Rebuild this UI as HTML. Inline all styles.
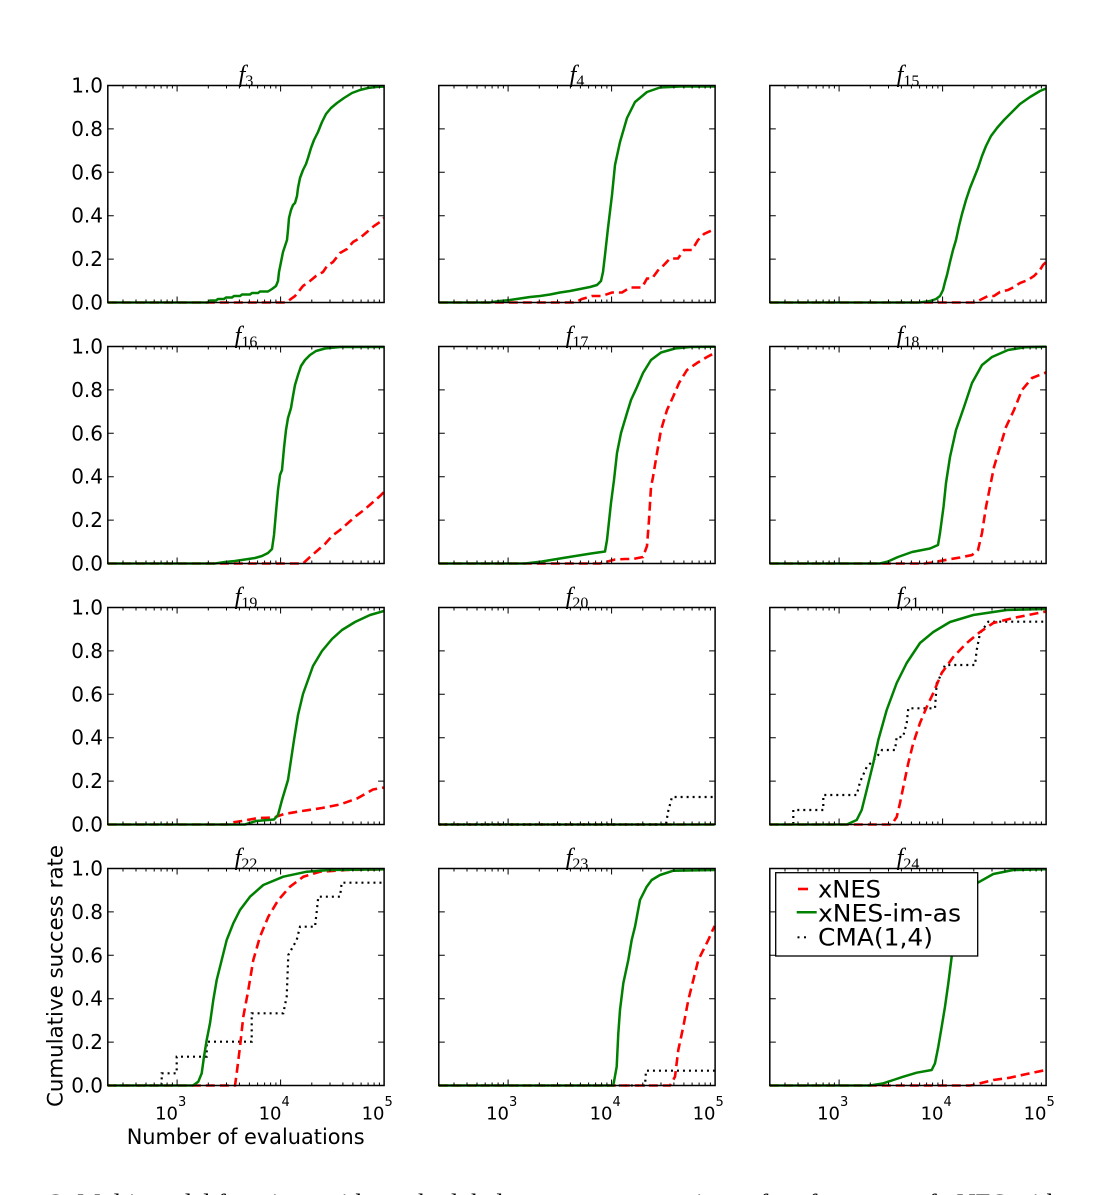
<!DOCTYPE html>
<html><head><meta charset="utf-8"><style>
html,body{margin:0;padding:0;background:#fff;}
svg{display:block;}
.g{fill:none;stroke:#008000;stroke-width:2.5;stroke-linejoin:round;}
.r{fill:none;stroke:#ff0000;stroke-width:2.6;stroke-dasharray:9 5;}
.k{fill:none;stroke:#000;stroke-width:2.2;stroke-dasharray:2 4;}
.yl{font-family:"DejaVu Sans","Liberation Sans",sans-serif;font-size:20px;text-anchor:end;fill:#000;}
.xl{font-family:"DejaVu Sans","Liberation Sans",sans-serif;font-size:18px;fill:#000;}
.xs{font-family:"DejaVu Sans","Liberation Sans",sans-serif;font-size:13px;fill:#000;}
.t{font-family:"Liberation Serif",serif;font-size:24px;text-anchor:middle;fill:#000;}
.lg{font-family:"DejaVu Sans","Liberation Sans",sans-serif;font-size:24px;fill:#000;}
</style></head><body>
<svg width="1108" height="1195" viewBox="0 0 1108 1195" xmlns="http://www.w3.org/2000/svg">
<defs>
<g id="ax">
<path fill="none" stroke="#000" stroke-width="1" d="M15.2,0v3M28.2,0v3M38.2,0v3M46.4,0v3M53.3,0v3M59.3,0v3M64.6,0v3M100.5,0v3M118.7,0v3M131.6,0v3M141.6,0v3M149.8,0v3M156.8,0v3M162.8,0v3M168.1,0v3M204,0v3M222.2,0v3M235.1,0v3M245.1,0v3M253.3,0v3M260.3,0v3M266.3,0v3M271.6,0v3
M15.2,217v-3M28.2,217v-3M38.2,217v-3M46.4,217v-3M53.3,217v-3M59.3,217v-3M64.6,217v-3M100.5,217v-3M118.7,217v-3M131.6,217v-3M141.6,217v-3M149.8,217v-3M156.8,217v-3M162.8,217v-3M168.1,217v-3M204,217v-3M222.2,217v-3M235.1,217v-3M245.1,217v-3M253.3,217v-3M260.3,217v-3M266.3,217v-3M271.6,217v-3
M69.3,0v6M172.8,0v6M69.3,217v-6M172.8,217v-6
M0,43.4h6M0,86.8h6M0,130.2h6M0,173.6h6M276.3,43.4h-6M276.3,86.8h-6M276.3,130.2h-6M276.3,173.6h-6"/>
<rect x="0" y="0" width="276.3" height="217" fill="none" stroke="#000" stroke-width="1.5"/>
</g>
</defs>

<!-- Row 1 -->
<path class="r" d="M107.8,302.5 H286 L295,296 L303,286 L310,281 L316,276 L323,272 L327,266 L333,262 L340,253 L347,249 L353,242 L360,238 L367,232 L374,226 L380,222 L384,218"/>
<path class="g" d="M107.8,302.5 H208 L210,300.5 H216 L218,299 H224 L226,297.5 H232 L234,296 H240 L242,294.5 H250 L252,293 H258 L260,291.5 H268 L272,289 L276,286 L278,281 L279,272 L281,262 L283,252 L285,246 L287,240 L288,230 L289,218 L291,210 L293,205 L295,203 L297,196 L298,188 L300,178 L303,170 L306,164 L308,158 L311,148 L314,140 L318,132 L322,122 L326,114 L331,108 L337,103 L344,98 L352,93 L360,90 L368,88 L376,87 L384,86.5"/>
<path class="r" d="M438.8,302.5 H575 L582,299 L592,296 H602 L612,292.5 H622 L630,287.5 H642 L647,278.5 H652 L659,269 L662,267 L670,258.5 H678 L684,250 H692 L698,240 L704,234 L714.7,229"/>
<path class="g" d="M438.8,302.5 H490 L500,301 L510,300 L520,298.5 L530,297 L540,296 L550,294.5 L560,292.5 L570,291 L580,289 L590,287 L597,285 L601,281 L603,272 L605,255 L608,228 L612,195 L615,165 L620,142 L627,118 L635,102 L647,92 L660,87.5 L680,86.5 L714.7,86.5"/>
<path class="r" d="M769.8,302.5 H975 L982,299 L988,296 H994 L1000,292 L1008,290 L1014,287 L1020,283 L1028,280 L1034,276 L1040,270 L1043,265 L1046,262"/>
<path class="g" d="M769.8,302.5 H920 L930,301 L936,299 L940,296 L943,290 L945,282 L947,275 L950,262 L953,250 L956,240 L959,226 L962,214 L966,200 L970,188 L974,178 L978,168 L982,156 L986,146 L991,136 L997,128 L1004,120 L1012,112 L1020,104 L1030,97 L1040,91 L1046,88.5"/>

<!-- Row 2 -->
<path class="r" d="M107.8,563.5 H303 L310,557 L318,550 L325,544 L332,536 L340,530 L348,523 L356,516 L364,510 L372,503 L380,496 L384,492"/>
<path class="g" d="M107.8,563.5 H215 L225,562 L235,561 L245,559.5 L255,558 L262,556 L268,553 L272,549 L274,535 L276,512 L278,490 L280,475 L282,470 L284,448 L286,430 L288,418 L291,408 L293,396 L295,385 L298,375 L301,366 L305,360 L310,355 L316,351 L325,348.5 L340,347 L384,347"/>
<path class="r" d="M438.8,563.5 H600 L615,559.5 L625,559 H633 L643,557 L647,546 L649,520 L651,487 L653,477 L657,453 L661,430 L667,410 L673,397 L679,383 L687,370 L697,363 L707,357 L714.7,353"/>
<path class="g" d="M438.8,563.5 H525 L542,561.5 L563,558 L591,553.5 L605,551.5 L607,540 L611,503 L614,480 L617,453 L621,433 L627,413 L631,400 L637,387 L643,373 L651,360 L661,352.5 L675,348.5 L690,347 L714.7,346.7"/>
<path class="r" d="M769.8,563.5 H925 L932,562.5 L948,559.5 L960,557.5 L972,555 L978,550 L982,533 L986,507 L990,487 L994,467 L1000,447 L1006,427 L1014,410 L1022,390 L1032,378 L1046,372.5"/>
<path class="g" d="M769.8,563.5 H880 L888,561.5 L898,557 L912,552 L930,548.5 L938,545 L940,533 L943.5,507 L946,483 L950,457 L956,430 L964,407 L972,383 L982,365 L992,357 L1008,350 L1025,347.3 L1046,346.7"/>

<!-- Row 3 -->
<path class="r" d="M107.8,824.5 H228 L232,822.5 L242,821 L258,818 L274,817.5 L284,814 L302,811 L322,808 L340,804.5 L357,798.5 L373,789.5 L384,787.5"/>
<path class="g" d="M107.8,824.5 H245 L256,821 L274,819.5 L278,815 L282,800 L288,780 L291,760 L294,740 L298,715 L303,694 L308,680 L313,666 L322,651 L332,639 L342,630 L355,622 L370,615 L384,611"/>
<path class="r" d="M438.8,824.5 H714.7"/>
<path class="g" d="M438.8,824.5 H714.7"/>
<path class="k" d="M438.8,824.5 H666 L668,812 L672,797 H714.7"/>
<path class="k" d="M769.8,824.5 H793.3 V810 H823.3 V795 H856.7 L860,782 L866.7,767 L876.7,757 L882,750 H895 L896.7,737 H903 L906.7,723 L908.3,708.3 H935 L936.7,683.3 L941.7,673.3 L945,665 H975 L976.7,650 L980,633.3 L988.3,621.7 H1046"/>
<path class="r" d="M769.8,824.5 H891.7 L896.7,817 L900,803 L903.3,787 L908.3,763 L913.3,743 L920,723 L926.7,707 L933.3,693 L941.7,673 L953.3,657 L966.7,643 L980,632 L993.3,623 L1013.3,618 L1046,611.5"/>
<path class="g" d="M769.8,824.5 H846.7 L856.7,820 L861.7,810 L866.7,790 L873.3,763 L878.3,740 L886.7,710 L896.7,683 L906.7,663 L920,643 L933.3,632 L950,622 L973.3,615 L1006.7,610 L1046,609"/>

<!-- Row 4 -->
<path class="k" d="M107.8,1085.5 H161.7 V1073.3 H176.7 V1056.7 H206.7 V1041.7 H251.7 V1013.3 H283.3 L286.7,996.7 L288.3,955 L296.7,940 L300,926.7 H315 L316.7,911.7 L318.3,896.7 H340 L341.7,882.7 H384"/>
<path class="r" d="M107.8,1085.5 H235 L236.7,1073.3 L240,1046.7 L243.3,1016.7 L248.3,990 L253.3,960 L260,936.7 L268.3,916.7 L278.3,900 L290,886.7 L303.3,876.7 L320,871.7 L346.7,870 L384,869.3"/>
<path class="g" d="M107.8,1085.5 H193 L198.3,1081.7 L201.7,1073.3 L204,1056.7 L206.7,1040 L210,1023.3 L213.3,1000 L216.7,980 L221.7,960 L226.7,940 L233.3,923.3 L240,910 L250,896.7 L263.3,885 L283.3,876.7 L306.7,871.7 L330,870 L384,869.3"/>
<path class="k" d="M438.8,1085.5 H645 L646,1070.7 H714.7"/>
<path class="r" d="M438.8,1085.5 H670 L675,1076.7 L678.3,1050 L683.3,1026.7 L688.3,1000 L693.3,980 L698.3,960 L703.3,950 L708.3,940 L712.7,930 L714.7,926"/>
<path class="g" d="M438.8,1085.5 H613.3 L616.7,1066.7 L618.3,1033.3 L620,1010 L623.3,983.3 L628.3,960 L631.7,940 L635,926.7 L640,900 L646.7,886.7 L651.7,880 L660,875 L673.3,870.7 L714.7,870"/>
<path class="r" d="M769.8,1085.5 H970 L973.3,1085 L993.3,1080 L1010,1077.7 L1026.7,1074 L1046,1070"/>
<path class="g" d="M769.8,1085.5 H870 L883.3,1083.3 L893.3,1080 L903.3,1076.7 L916.7,1072.7 L931.7,1070 L935,1063.3 L938.3,1046.7 L941.7,1026.7 L945,1006.7 L948.3,983.3 L951.7,956.7 L955,935 L958,918 L962,905 L966.7,893.3 L976.7,883.3 L993.3,874 L1013.3,870 L1046,869.3"/>

<!-- Axes frames and ticks -->
<use href="#ax" x="107.8" y="85.5"/>
<use href="#ax" x="438.8" y="85.5"/>
<use href="#ax" x="769.8" y="85.5"/>
<use href="#ax" x="107.8" y="346.5"/>
<use href="#ax" x="438.8" y="346.5"/>
<use href="#ax" x="769.8" y="346.5"/>
<use href="#ax" x="107.8" y="607.5"/>
<use href="#ax" x="438.8" y="607.5"/>
<use href="#ax" x="769.8" y="607.5"/>
<use href="#ax" x="107.8" y="868.5"/>
<use href="#ax" x="438.8" y="868.5"/>
<use href="#ax" x="769.8" y="868.5"/>

<!-- Titles -->
<text class="t" x="246" y="82"><tspan font-style="italic">f</tspan><tspan font-size="16" dy="4">3</tspan></text>
<text class="t" x="577" y="82"><tspan font-style="italic">f</tspan><tspan font-size="16" dy="4">4</tspan></text>
<text class="t" x="908" y="82"><tspan font-style="italic">f</tspan><tspan font-size="16" dy="4">15</tspan></text>
<text class="t" x="246" y="343"><tspan font-style="italic">f</tspan><tspan font-size="16" dy="4">16</tspan></text>
<text class="t" x="577" y="343"><tspan font-style="italic">f</tspan><tspan font-size="16" dy="4">17</tspan></text>
<text class="t" x="908" y="343"><tspan font-style="italic">f</tspan><tspan font-size="16" dy="4">18</tspan></text>
<text class="t" x="246" y="604"><tspan font-style="italic">f</tspan><tspan font-size="16" dy="4">19</tspan></text>
<text class="t" x="577" y="604"><tspan font-style="italic">f</tspan><tspan font-size="16" dy="4">20</tspan></text>
<text class="t" x="908" y="604"><tspan font-style="italic">f</tspan><tspan font-size="16" dy="4">21</tspan></text>
<text class="t" x="246" y="865"><tspan font-style="italic">f</tspan><tspan font-size="16" dy="4">22</tspan></text>
<text class="t" x="577" y="865"><tspan font-style="italic">f</tspan><tspan font-size="16" dy="4">23</tspan></text>
<text class="t" x="908" y="865"><tspan font-style="italic">f</tspan><tspan font-size="16" dy="4">24</tspan></text>

<!-- Y tick labels -->
<g class="yl">
<text x="103" y="92.5">1.0</text><text x="103" y="135.9">0.8</text><text x="103" y="179.3">0.6</text><text x="103" y="222.7">0.4</text><text x="103" y="266.1">0.2</text><text x="103" y="309.5">0.0</text>
<text x="103" y="353.5">1.0</text><text x="103" y="396.9">0.8</text><text x="103" y="440.3">0.6</text><text x="103" y="483.7">0.4</text><text x="103" y="527.1">0.2</text><text x="103" y="570.5">0.0</text>
<text x="103" y="614.5">1.0</text><text x="103" y="657.9">0.8</text><text x="103" y="701.3">0.6</text><text x="103" y="744.7">0.4</text><text x="103" y="788.1">0.2</text><text x="103" y="831.5">0.0</text>
<text x="103" y="875.5">1.0</text><text x="103" y="918.9">0.8</text><text x="103" y="962.3">0.6</text><text x="103" y="1005.7">0.4</text><text x="103" y="1049.1">0.2</text><text x="103" y="1092.5">0.0</text>
</g>

<!-- X tick labels -->
<g>
<text class="xl" x="178" y="1119.5" text-anchor="end">10</text><text class="xs" x="178" y="1106">3</text>
<text class="xl" x="281.5" y="1119.5" text-anchor="end">10</text><text class="xs" x="281.5" y="1106">4</text>
<text class="xl" x="384.5" y="1119.5" text-anchor="end">10</text><text class="xs" x="384.5" y="1106">5</text>
<text class="xl" x="509" y="1119.5" text-anchor="end">10</text><text class="xs" x="509" y="1106">3</text>
<text class="xl" x="612.5" y="1119.5" text-anchor="end">10</text><text class="xs" x="612.5" y="1106">4</text>
<text class="xl" x="715.5" y="1119.5" text-anchor="end">10</text><text class="xs" x="715.5" y="1106">5</text>
<text class="xl" x="840" y="1119.5" text-anchor="end">10</text><text class="xs" x="840" y="1106">3</text>
<text class="xl" x="943.5" y="1119.5" text-anchor="end">10</text><text class="xs" x="943.5" y="1106">4</text>
<text class="xl" x="1046.5" y="1119.5" text-anchor="end">10</text><text class="xs" x="1046.5" y="1106">5</text>
</g>

<!-- Axis labels -->
<text x="126.7" y="1144" font-family="DejaVu Sans, Liberation Sans, sans-serif" font-size="21" textLength="238" lengthAdjust="spacingAndGlyphs">Number of evaluations</text>
<text transform="translate(62.5,976) rotate(-90)" x="0" y="0" text-anchor="middle" font-family="DejaVu Sans, Liberation Sans, sans-serif" font-size="21" textLength="262" lengthAdjust="spacingAndGlyphs">Cumulative success rate</text>

<!-- Legend -->
<rect x="775.7" y="872.7" width="202" height="83.3" fill="#fff" stroke="#000" stroke-width="1.3"/>
<line x1="798" y1="889" x2="808" y2="889" stroke="#ff0000" stroke-width="2.6"/>
<line x1="796.7" y1="912.3" x2="816.7" y2="912.3" stroke="#008000" stroke-width="2.5"/>
<rect x="797.5" y="936.3" width="2" height="2" fill="#000"/>
<rect x="804" y="936.3" width="2" height="2" fill="#000"/>
<text class="lg" x="818" y="897.7" textLength="63" lengthAdjust="spacingAndGlyphs">xNES</text>
<text class="lg" x="818" y="921.7" textLength="143" lengthAdjust="spacingAndGlyphs">xNES-im-as</text>
<text class="lg" x="818" y="945.5" textLength="115" lengthAdjust="spacingAndGlyphs">CMA(1,4)</text>

<!-- Caption (cut off) -->
<text x="50" y="1212" font-family="Liberation Serif, serif" font-size="26" textLength="1010" lengthAdjust="spacingAndGlyphs">2: Multi-modal functions with weak global structure: comparison of performance of xNES with</text>
</svg>
</body></html>
